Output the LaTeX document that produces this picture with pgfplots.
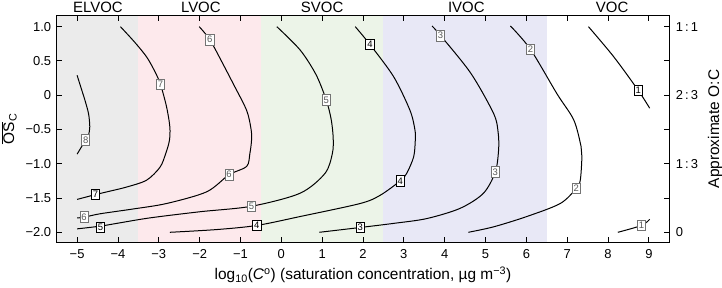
\documentclass[border=0pt]{standalone}
\usepackage{pgfplots}
\usepackage{pgfplotstable}
\pgfplotsset{compat=1.18}
\usepackage{fontspec}
\setmainfont{Liberation Sans}
\definecolor{elvoc}{RGB}{235,235,235}
\definecolor{lvoc}{RGB}{253,233,236}
\definecolor{svoc}{RGB}{236,244,232}
\definecolor{ivoc}{RGB}{232,232,246}

\pgfplotstableread{
x y l
-4.55 -1.45 7
-4.43 -1.93 5
2.17 0.74 4
2.91 -1.25 4
-0.60 -1.90 4
1.93 -1.93 3
8.74 0.07 1
}\blacklabels
\pgfplotstableread{
x y l
-4.79 -0.65 8
-2.96 0.16 7
-1.75 0.81 6
-1.28 -1.16 6
-4.83 -1.78 6
1.10 -0.07 5
-0.73 -1.62 5
3.90 0.87 3
5.24 -1.12 3
6.10 0.67 2
7.22 -1.36 2
8.82 -1.90 1
}\greylabels

\begin{document}
\begin{tikzpicture}
\begin{axis}[
  scale only axis, width=612.6bp, height=226.6bp,
  xmin=-5.5, xmax=9.5, ymin=-2.146, ymax=1.16,
  axis on top, clip=false,
  xtick={-5,...,9},
  xticklabels={−5,−4,−3,−2,−1,0,1,2,3,4,5,6,7,8,9},
  ytick={-2,-1.5,-1,-0.5,0,0.5,1},
  yticklabels={−2.0,−1.5,−1.0,−0.5,0,0.5,1.0},
  tick align=inside, major tick length=5bp,
  every tick/.style={black, line width=0.9bp},
  axis line style={line width=1bp},
  tick label style={font=\fontsize{13}{15}\selectfont},
  xticklabel style={yshift=-4bp},
  yticklabel style={xshift=-2bp},
  label style={font=\fontsize{15.5}{18}\selectfont},
  xlabel style={yshift=-1bp},
  ylabel style={yshift=2bp},
  xlabel={log\textsubscript{10}(\textit{C}\textsuperscript{o}) (saturation concentration, µg m\textsuperscript{−3})},
  ylabel={\(\overline{\mbox{OS}}\)\textsubscript{C}},
  curve/.style={black, line width=1bp, smooth, tension=0.5},
  lab/.style={only marks, mark=none, nodes near coords, point meta=explicit symbolic,
     every node near coord/.append style={anchor=center, fill=white, line width=0.8bp,
       inner xsep=1.5bp, inner ysep=2bp, font=\fontsize{9.5}{10}\selectfont}},
]
% background regions
\addplot[fill=elvoc, draw=none] coordinates {(-5.5,-2.146) (-3.5,-2.146) (-3.5,1.16) (-5.5,1.16)} -- cycle;
\addplot[fill=lvoc, draw=none] coordinates {(-3.5,-2.146) (-0.5,-2.146) (-0.5,1.16) (-3.5,1.16)} -- cycle;
\addplot[fill=svoc, draw=none] coordinates {(-0.5,-2.146) (2.5,-2.146) (2.5,1.16) (-0.5,1.16)} -- cycle;
\addplot[fill=ivoc, draw=none] coordinates {(2.5,-2.146) (6.5,-2.146) (6.5,1.16) (2.5,1.16)} -- cycle;

% contour curves
\addplot[curve] coordinates {(-5.0,0.29) (-4.90,0.10) (-4.81,-0.07) (-4.72,-0.27) (-4.69,-0.46) (-4.72,-0.58) (-4.79,-0.65) (-4.90,-0.76) (-5.0,-0.86)};
\addplot[curve] coordinates {(-3.94,1.0) (-3.60,0.78) (-3.30,0.56) (-3.10,0.35) (-2.96,0.16) (-2.81,-0.17) (-2.73,-0.46) (-2.74,-0.66) (-2.83,-0.85) (-2.97,-1.05) (-3.30,-1.24) (-3.79,-1.34) (-4.20,-1.40) (-4.55,-1.45) (-5.0,-1.52)};
\addplot[curve] coordinates {(-2.01,1.0) (-1.75,0.81) (-1.45,0.48) (-1.18,0.17) (-0.85,-0.22) (-0.74,-0.50) (-0.73,-0.66) (-0.77,-0.85) (-0.85,-1.04) (-1.28,-1.16) (-1.83,-1.41) (-2.81,-1.58) (-3.63,-1.66) (-4.44,-1.73) (-4.83,-1.78) (-5.0,-1.79)};
\addplot[curve] coordinates {(-0.11,1.0) (0.46,0.66) (0.85,0.30) (1.10,-0.07) (1.22,-0.35) (1.27,-0.62) (1.25,-0.85) (1.07,-1.14) (0.46,-1.43) (-0.73,-1.62) (-1.99,-1.70) (-3.22,-1.79) (-4.03,-1.87) (-4.43,-1.91) (-5.0,-1.95)};
\addplot[curve] coordinates {(1.81,1.0) (2.17,0.74) (2.75,0.27) (3.15,-0.22) (3.27,-0.50) (3.28,-0.66) (3.24,-0.90) (3.07,-1.14) (2.91,-1.25) (2.42,-1.46) (1.93,-1.58) (0.46,-1.77) (-0.60,-1.90) (-1.58,-1.96) (-2.73,-2.0)};
\addplot[curve] coordinates {(3.69,1.01) (3.90,0.87) (4.64,0.32) (5.20,-0.27) (5.31,-0.55) (5.32,-0.80) (5.24,-1.12) (4.95,-1.43) (4.38,-1.65) (3.56,-1.80) (2.75,-1.87) (1.93,-1.93) (0.93,-2.0)};
\addplot[curve] coordinates {(5.61,1.01) (6.10,0.67) (6.75,0.02) (7.16,-0.36) (7.34,-0.75) (7.36,-0.90) (7.32,-1.24) (7.22,-1.36) (6.83,-1.58) (6.01,-1.77) (5.20,-1.92) (4.58,-2.0)};
\addplot[curve] coordinates {(7.52,1.0) (8.14,0.56) (8.74,0.07) (9.02,-0.19)};
\addplot[curve] coordinates {(8.24,-2.0) (8.82,-1.90) (9.02,-1.81)};

% labels on the curves
\addplot[lab, every node near coord/.append style={draw=black, text=black}] table[x=x, y=y, meta=l] {\blacklabels};
\addplot[lab, every node near coord/.append style={draw=black!55, text=black!65}] table[x=x, y=y, meta=l] {\greylabels};

% region names
\foreach \xx/\nm in {-4.49/ELVOC, -1.97/LVOC, 1.0/SVOC, 4.53/IVOC, 8.1/VOC} {
  \edef\tmp{\noexpand\node[anchor=base, font=\noexpand\fontsize{15}{17}\noexpand\selectfont, yshift=3.5bp] at (axis cs:\xx,1.16) {\nm};}
  \tmp
}
\coordinate (BL) at (rel axis cs:0,0);
\coordinate (TR) at (rel axis cs:1,1);
\end{axis}
\begin{axis}[
  scale only axis, width=612.6bp, height=226.6bp,
  xmin=-5.5, xmax=9.5, ymin=-2.146, ymax=1.16,
  axis x line=none, axis y line*=right,
  axis line style={line width=1bp},
  ytick={-2,-1,0,1}, yticklabels={0,1\,:\,3,2\,:\,3,1\,:\,1},
  major tick length=0pt,
  tick label style={font=\fontsize{13}{15}\selectfont},
  yticklabel style={xshift=3bp},
  label style={font=\fontsize{15.5}{18}\selectfont},
  ylabel style={yshift=-3bp},
  ylabel={Approximate O:C},
]
\addplot[draw=none] coordinates {(0,0)};
\end{axis}
\pgfresetboundingbox
\path[use as bounding box] ([xshift=-56.7bp,yshift=-44.7bp]BL) rectangle ([xshift=52.7bp,yshift=15.7bp]TR);
\end{tikzpicture}
\end{document}
